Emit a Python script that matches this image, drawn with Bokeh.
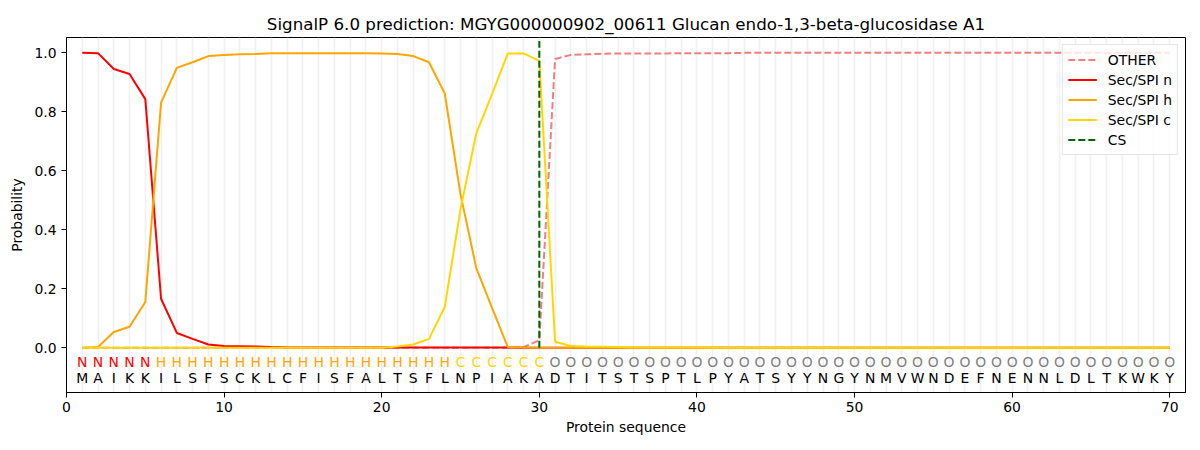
from bokeh.plotting import figure
from bokeh.models import FixedTicker, PrintfTickFormatter, Legend, LegendItem, ColumnDataSource
from bokeh.core.properties import value
from bokeh.embed import file_html
from bokeh.resources import INLINE

# ---------------- data ----------------
sequence = list("MAIKKILSFSCKLCFISFALTSFLNPIAKADTITSTSPTLPYATSYYNGYNMVWNDEFNENNLDLTKWKY")
region_labels = list("NNNNN" + "H" * 19 + "C" * 6 + "O" * 40)
positions = list(range(1, 71))

sp_n = [1.0, 0.999, 0.945, 0.928, 0.843, 0.166, 0.050, 0.030, 0.011, 0.006,
        0.005, 0.004, 0.002, 0.001, 0.001, 0.001, 0.001, 0.001, 0.001, 0.001,
        0.001, 0.001, 0.001, 0.001, 0.001, 0.001, 0.001, 0.001, 0.0, 0.0] + [0.0] * 40

sp_h = [0.0, 0.002, 0.053, 0.071, 0.155, 0.831, 0.949, 0.968, 0.989, 0.993,
        0.995, 0.996, 0.999, 0.999, 0.999, 0.999, 0.999, 0.999, 0.999, 0.998,
        0.996, 0.989, 0.968, 0.862, 0.52, 0.27, 0.135, 0.002, 0.001, 0.0] + [0.0] * 40

sp_c = [0.0] * 20 + [0.004, 0.011, 0.030, 0.138, 0.47, 0.727, 0.86, 0.998, 0.998, 0.973,
                     0.020, 0.006, 0.004, 0.003, 0.002, 0.001, 0.001, 0.001, 0.001, 0.001] + [0.0] * 30

other = [0.0] * 28 + [0.002, 0.025, 0.979, 0.993, 0.995, 0.997, 0.998, 0.998, 0.998, 0.998,
                      0.999, 0.999, 0.999, 0.999] + [1.0] * 28

cs_position = 30
cs_top = 1.04

x_ticks = [0, 10, 20, 30, 40, 50, 60, 70]
y_ticks = [0.0, 0.2, 0.4, 0.6, 0.8, 1.0]

label_colors = {"N": "#ff0000", "H": "#ffa500", "C": "#ffd700", "O": "#808080"}

# ---------------- figure ----------------
FONT = "DejaVu Sans"
p = figure(width=1192, height=442, output_backend="svg", toolbar_location=None,
           x_range=(0, 71), y_range=(-0.152, 1.052),
           min_border_left=66, min_border_right=7, min_border_top=37, min_border_bottom=50,
           title="SignalP 6.0 prediction: MGYG000000902_00611 Glucan endo-1,3-beta-glucosidase A1")
p.title.align = "center"
p.title.text_font = FONT
p.title.text_font_size = "16.7px"
p.title.text_font_style = "normal"
p.title.text_color = "black"
p.title.standoff = 8

p.outline_line_color = "black"
p.outline_line_width = 1
p.background_fill_color = "white"

p.ygrid.visible = False
p.xgrid.ticker = FixedTicker(ticks=positions)
p.xgrid.grid_line_color = "#ececec"
p.xgrid.grid_line_width = 1.6
p.xgrid.grid_line_alpha = 0.8

for ax in (p.xaxis, p.yaxis):
    ax.major_label_text_font = FONT
    ax.major_label_text_font_size = "13.9px"
    ax.major_label_text_color = "black"
    ax.axis_label_text_font = FONT
    ax.axis_label_text_font_size = "13.9px"
    ax.axis_label_text_font_style = "normal"
    ax.axis_label_text_color = "black"
    ax.minor_tick_line_color = None
    ax.major_tick_in = 0
    ax.major_tick_out = 5
    ax.major_tick_line_color = "black"
    ax.axis_line_color = "black"

p.xaxis.ticker = FixedTicker(ticks=x_ticks)
p.yaxis.ticker = FixedTicker(ticks=y_ticks)
p.yaxis.formatter = PrintfTickFormatter(format="%.1f")
p.xaxis.axis_label = "Protein sequence"
p.yaxis.axis_label = "Probability"
p.xaxis.major_label_standoff = 4
p.xaxis.axis_label_standoff = 4
p.yaxis.axis_label_standoff = 6

src = ColumnDataSource(dict(x=positions, other=other, n=sp_n, h=sp_h, c=sp_c))

r_other = p.line("x", "other", source=src, line_color="#f08080", line_width=2, line_dash="7 3")
r_n = p.line("x", "n", source=src, line_color="#ff0000", line_width=2)
r_h = p.line("x", "h", source=src, line_color="#ffa500", line_width=2)
r_c = p.line("x", "c", source=src, line_color="#ffd700", line_width=2)
r_cs = p.segment(x0=[cs_position], y0=[0.0], x1=[cs_position], y1=[cs_top],
                 line_color="#006400", line_width=2, line_dash="7 3")

# region labels and sequence letters
lab_src = ColumnDataSource(dict(
    x=positions,
    y1=[-0.05] * len(positions),
    y2=[-0.102] * len(positions),
    lab=region_labels,
    col=[label_colors[c] for c in region_labels],
    seq=sequence,
))
p.text("x", "y1", text="lab", source=lab_src, text_color="col",
       text_align="center", text_baseline="middle",
       text_font=value(FONT), text_font_size="13.9px")
p.text("x", "y2", text="seq", source=lab_src, text_color="black",
       text_align="center", text_baseline="middle",
       text_font=value(FONT), text_font_size="13.9px")

legend = Legend(items=[
    LegendItem(label="OTHER", renderers=[r_other]),
    LegendItem(label="Sec/SPI n", renderers=[r_n]),
    LegendItem(label="Sec/SPI h", renderers=[r_h]),
    LegendItem(label="Sec/SPI c", renderers=[r_c]),
    LegendItem(label="CS", renderers=[r_cs]),
], location="top_right")
legend.label_text_font = FONT
legend.label_text_font_size = "13.9px"
legend.label_text_color = "black"
legend.glyph_width = 29
legend.glyph_height = 19
legend.label_height = 19
legend.label_standoff = 11
legend.spacing = 1
legend.padding = 5
legend.margin = 7
legend.border_line_color = "#cccccc"
legend.border_line_width = 1
legend.background_fill_alpha = 0.8
p.add_layout(legend)

open("out.html", "w").write(file_html(p, INLINE))
